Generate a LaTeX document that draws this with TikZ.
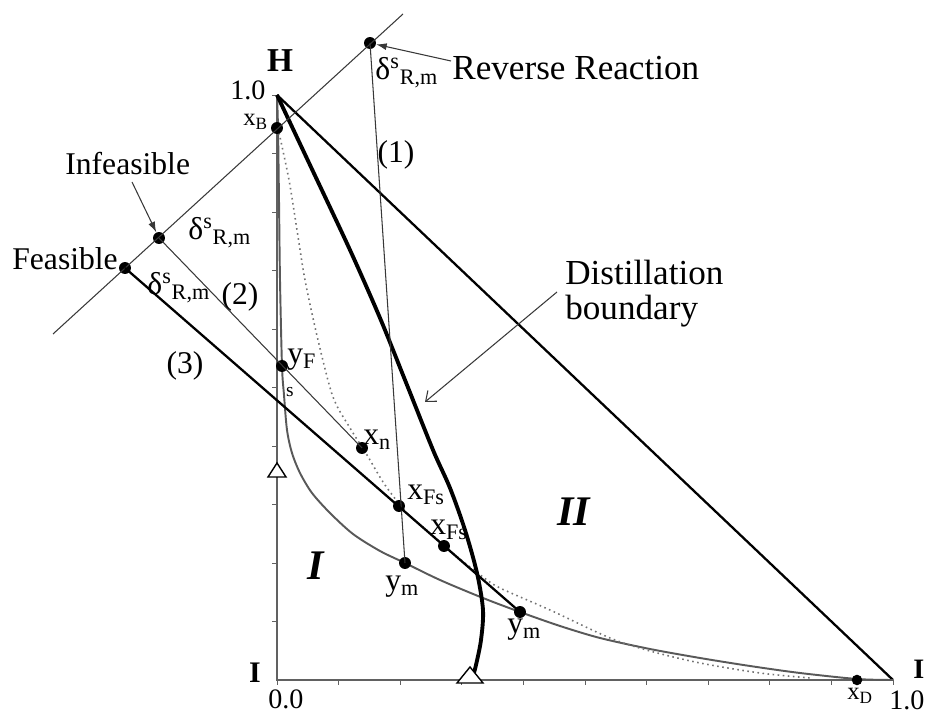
\documentclass[tikz,border=0pt]{standalone}
\usepackage{fontspec}
\setmainfont{Liberation Serif}
\usetikzlibrary{arrows.meta}
\newcommand{\fsz}[1]{\fontsize{#1}{#1}\selectfont}
\newcommand{\dsrm}{δ\textsuperscript{s}\textsubscript{R,m}}
\definecolor{axgray}{gray}{0.38}
\definecolor{curvegray}{gray}{0.35}
\definecolor{dotgray}{gray}{0.45}
\definecolor{lngray}{gray}{0.22}
\tikzset{
  pt/.style={circle, fill=black, inner sep=0pt, minimum size=6.8pt},
  lab/.style={inner sep=0pt, anchor=base west, font=\fsz{18}},
  cen/.style={inner sep=0pt, font=\fsz{18}},
  axisln/.style={draw=axgray, line width=1.2pt},
  tickln/.style={draw=axgray, line width=0.5pt},
  hypln/.style={draw=black, line width=1.3pt},
  bndln/.style={draw=black, line width=2.2pt},
  thinln/.style={draw=lngray, line width=0.6pt},
  feasln/.style={draw=black, line width=1.3pt},
  resln/.style={draw=curvegray, line width=1.1pt},
  dotln/.style={draw=dotgray, line width=0.9pt, dotted},
  arr/.style={draw=lngray, line width=0.6pt, -{Latex[length=6pt,width=4pt]}},
  barb/.style={draw=lngray, line width=0.6pt, -{Straight Barb[length=5pt,width=8pt]}},
  marker/.style={draw=black, line width=0.8pt, fill=white}
}
\begin{document}
\begin{tikzpicture}[x=0.02cm,y=-0.02cm]
\useasboundingbox (0,0) rectangle (927,715);

% triangle frame
\coordinate (H) at (277,95);
\coordinate (O) at (277,680);
\coordinate (Ir) at (893,680);
\foreach \k in {0,...,9} \draw[tickln] (277,95+58.5*\k) -- ++(-5,0);
\foreach \k in {0,...,10} \draw[tickln] (277+61.6*\k,680) -- ++(0,5);
\draw[axisln] (H) -- (O) -- (Ir);
\draw[hypln] (H) -- (Ir);

% residue curve (gray)
\draw[resln] plot[smooth, tension=0.5] coordinates {(277,95) (278,128) (279,200) (280,280) (282,366) (284,395) (287,430) (292,453) (300,473) (312,493) (330,513) (353,534) (380,551) (405,563) (440,580) (483,598) (520,612) (560,626) (600,638) (650,649) (700,658) (750,666) (800,673) (857,679) (893,680)};

% dotted curve
\draw[dotln] plot[smooth, tension=0.5] coordinates {(278,128) (289,180) (297,230) (305,280) (318,340) (333,397) (350,428) (367,455) (385,485) (407,513) (430,533) (455,555) (483,577) (500,588) (550,610) (610,638) (650,651) (700,663) (760,673) (810,678)};

% distillation boundary (thick)
\draw[bndln] plot[smooth, tension=0.5] coordinates {(277,95) (310,165) (350,250) (380,318) (405,380) (433,450) (450,488) (465,530) (477,573) (483,610) (481,640) (476,665) (472,680)};

% markers
\draw[marker] (277,463) -- (268,477) -- (286,477) -- cycle;
\draw[marker] (470,667) -- (457,683) -- (483,683) -- cycle;

% points
\node[pt] (rev) at (370,43) {};
\node[pt] (xB) at (277,128) {};
\node[pt] (infd) at (159,238) {};
\node[pt] (feas) at (125,268) {};
\node[pt] (yF) at (282,366) {};
\node[pt] (xn) at (362,448) {};
\node[pt] (xFs) at (399,506) {};
\node[pt] (xFsb) at (444,546) {};
\node[pt] (ym) at (405,563) {};
\node[pt] (ymb) at (520,612) {};
\node[pt, minimum size=6pt] (xD) at (857,680) {};

% straight lines
\coordinate (dA) at (53,334);
\coordinate (dB) at (403,14);
\draw[thinln] (dA) -- (dB);
\draw[thinln] (rev.center) -- (ym.center);
\draw[thinln] (infd.center) -- (xn.center);
\draw[feasln] (feas.center) -- (ymb.center);

% labels
\node[lab, font=\fsz{19}\bfseries, anchor=base] (lH) at (280,72) {H};
\node[lab, font=\fsz{16}] (l10) at (230,100) {1.0};
\node[lab, font=\fsz{14}] (lxB) at (243,126) {x\textsubscript{B}};
\node[lab] (ldr) at (375,80) {\dsrm};
\node[lab, font=\fsz{20}] (lrr) at (452,80) {Reverse Reaction};
\node[cen] (l1) at (396,155) {(1)};
\node[lab] (linf) at (65,175) {Infeasible};
\node[lab] (lfeas) at (12,270) {Feasible};
\node[lab] (ldi) at (188,240) {\dsrm};
\node[lab] (ldf) at (147,295) {\dsrm};
\node[cen] (l2) at (240,297) {(2)};
\node[cen] (l3) at (185,366) {(3)};
\node[lab] (lyF) at (287,364) {y\textsubscript{F}};
\node[cen, font=\fsz{11}] (ls) at (290,392) {s};
\node[lab] (lxn) at (363,445) {x\textsubscript{n}};
\node[lab] (lxFs) at (407,500) {x\textsubscript{Fs}};
\node[lab] (lxFsb) at (430,535) {x\textsubscript{Fs}};
\node[cen, font=\fsz{24}\bfseries\itshape] (lIa) at (316,566) {I};
\node[cen, font=\fsz{24}\bfseries\itshape] (lII) at (574,512) {II};
\node[lab] (lym) at (385,591) {y\textsubscript{m}};
\node[lab] (lymb) at (507,634) {y\textsubscript{m}};
\node[lab, font=\fsz{17}\bfseries, anchor=base] (lIl) at (255,683) {I};
\node[lab, font=\fsz{16}] (l00) at (268,709) {0.0};
\node[lab, font=\fsz{14}] (lxD) at (847,700) {x\textsubscript{D}};
\node[lab, font=\fsz{16}] (l10b) at (889,710) {1.0};
\node[lab, font=\fsz{16}\bfseries] (lIr) at (913,679) {I};
\node[lab, font=\fsz{20}] (ld1) at (565,285) {Distillation};
\node[lab, font=\fsz{20}] (ld2) at (565,320) {boundary};

% arrows
\coordinate (rrS) at (451,61);
\draw[arr] (rrS) -- (rev);
\coordinate (infS) at (132,182);
\draw[arr] (infS) -- (infd);
\coordinate (dbS) at (557,292);
\coordinate (dbE) at (425,402);
\draw[barb] (dbS) -- (dbE);
\end{tikzpicture}
\end{document}
